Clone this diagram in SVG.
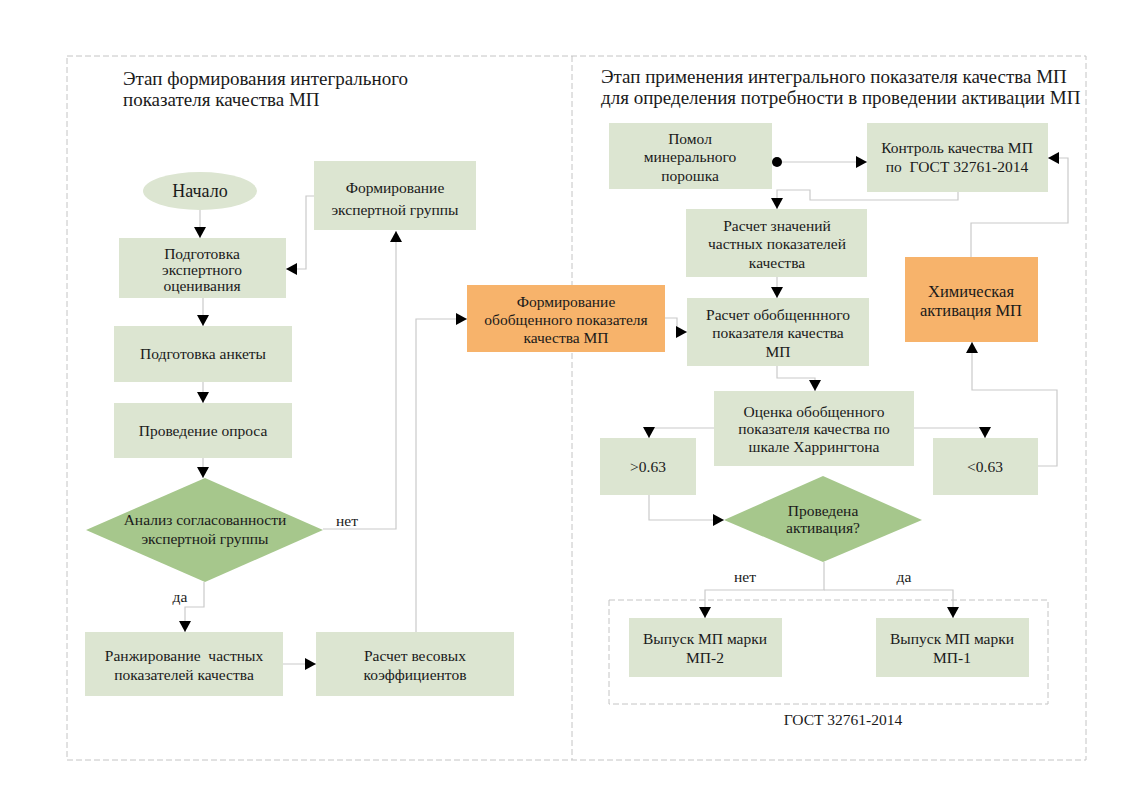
<svg xmlns="http://www.w3.org/2000/svg" width="1132" height="800" viewBox="0 0 1132 800" font-family="'Liberation Serif', 'Times New Roman', Tinos, 'DejaVu Serif', serif">
<style>
text{font-family:'Liberation Serif','Times New Roman',Tinos,'DejaVu Serif',serif;fill:#1a1a1a;text-anchor:middle}
.t{font-size:15.5px}
.h{font-size:19px;text-anchor:start}
.b{fill:#dce5d1}
.o{fill:#f7b36b}
.d{fill:#a6c78c}
.c{fill:none;stroke:#cacaca;stroke-width:1.2}
.frame{fill:none;stroke:#c4c4c4;stroke-width:1;stroke-dasharray:6 3}
</style>
<defs>
<marker id="a" markerUnits="userSpaceOnUse" markerWidth="12" markerHeight="12" refX="11" refY="6" orient="auto">
<path d="M0,0 L11,6 L0,12 z" fill="#000"/>
</marker>
</defs>
<rect width="1132" height="800" fill="#fff"/>
<g id="frames">
<rect class="frame" x="67" y="56" width="1019" height="704"/>
<line class="frame" x1="572" y1="56" x2="572" y2="760"/>
<rect class="frame" x="609" y="600" width="439" height="104"/>
</g>
<g id="titles">
<text class="h" x="123" y="85">Этап формирования интегрального</text>
<text class="h" x="123" y="106">показателя качества МП</text>
<text class="h" x="601" y="83">Этап применения интегрального показателя качества МП</text>
<text class="h" x="601" y="104">для определения потребности в проведении активации МП</text>
</g>
<g id="connectors">
<path class="c" d="M200,210 V238" marker-end="url(#a)"/>
<path class="c" d="M314,196 H306 V269 H286" marker-end="url(#a)"/>
<path class="c" d="M203,298 V326" marker-end="url(#a)"/>
<path class="c" d="M203,382 V403" marker-end="url(#a)"/>
<path class="c" d="M203,458 V478" marker-end="url(#a)"/>
<path class="c" d="M323,529 H396 V231" marker-end="url(#a)"/>
<path class="c" d="M204,582 V607 H185 V632" marker-end="url(#a)"/>
<path class="c" d="M283,664 H316" marker-end="url(#a)"/>
<path class="c" d="M416,632 V319 H467" marker-end="url(#a)"/>
<path class="c" d="M665,318 H677 V332 H687" marker-end="url(#a)"/>
<path class="c" d="M777,162 H867" marker-end="url(#a)"/>
<circle cx="777" cy="162" r="5" fill="#000"/>
<path class="c" d="M958,192 V200 H810 V190 H777 V209" marker-end="url(#a)"/>
<path class="c" d="M777,277 V298" marker-end="url(#a)"/>
<path class="c" d="M777,366 V378 H815 V391" marker-end="url(#a)"/>
<path class="c" d="M714,428 H649 V438" marker-end="url(#a)"/>
<path class="c" d="M914,428 H985 V438" marker-end="url(#a)"/>
<path class="c" d="M1038,466 H1057 V390 H972 V342" marker-end="url(#a)"/>
<path class="c" d="M971,257 V223 H1068 V158 H1048" marker-end="url(#a)"/>
<path class="c" d="M649,495 V520 H724" marker-end="url(#a)"/>
<path class="c" d="M824,562 V590 H705 V618" marker-end="url(#a)"/>
<path class="c" d="M824,590 H953 V618" marker-end="url(#a)"/>
</g>
<g id="start">
<ellipse class="b" cx="200" cy="191" rx="57" ry="19"/>
<text x="200" y="197" style="font-size:18px">Начало</text>
</g>
<g id="form-group">
<rect class="b" x="314" y="161" width="162" height="69"/>
<text class="t" x="395" y="193">Формирование</text>
<text class="t" x="395" y="215">экспертной группы</text>
</g>
<g id="prep-eval">
<rect class="b" x="119" y="238" width="167" height="60"/>
<text class="t" x="202" y="259">Подготовка</text>
<text class="t" x="202" y="275">экспертного</text>
<text class="t" x="202" y="291">оценивания</text>
</g>
<g id="prep-form">
<rect class="b" x="114" y="326" width="178" height="56"/>
<text class="t" x="203" y="359">Подготовка анкеты</text>
</g>
<g id="survey">
<rect class="b" x="114" y="403" width="178" height="55"/>
<text class="t" x="203" y="436">Проведение опроса</text>
</g>
<g id="analysis">
<polygon class="d" points="86,530 205,478 323,530 205,582"/>
<text class="t" x="205" y="525">Анализ согласованности</text>
<text class="t" x="205" y="544">экспертной группы</text>
</g>
<text class="t" x="347" y="526">нет</text>
<text class="t" x="180" y="602">да</text>
<g id="ranking">
<rect class="b" x="85" y="632" width="198" height="64"/>
<text class="t" x="184" y="661" xml:space="preserve">Ранжирование  частных</text>
<text class="t" x="184" y="680">показателей качества</text>
</g>
<g id="weights">
<rect class="b" x="316" y="632" width="198" height="64"/>
<text class="t" x="415" y="661">Расчет весовых</text>
<text class="t" x="415" y="680">коэффициентов</text>
</g>
<g id="general">
<rect class="o" x="467" y="285" width="198" height="67"/>
<text class="t" x="566" y="307">Формирование</text>
<text class="t" x="566" y="325">обобщенного показателя</text>
<text class="t" x="566" y="343">качества МП</text>
</g>
<g id="grinding">
<rect class="b" x="609" y="123" width="163" height="66"/>
<text class="t" x="690" y="144">Помол</text>
<text class="t" x="690" y="162">минерального</text>
<text class="t" x="690" y="181">порошка</text>
</g>
<g id="control">
<rect class="b" x="867" y="123" width="181" height="69"/>
<text class="t" x="957" y="153">Контроль качества МП</text>
<text class="t" x="957" y="172" xml:space="preserve">по  ГОСТ 32761-2014</text>
</g>
<g id="partial">
<rect class="b" x="686" y="209" width="181" height="68"/>
<text class="t" x="777" y="231">Расчет значений</text>
<text class="t" x="777" y="249">частных показателей</text>
<text class="t" x="777" y="268">качества</text>
</g>
<g id="chem">
<rect class="o" x="905" y="257" width="133" height="85"/>
<text x="971" y="297" style="font-size:16.5px">Химическая</text>
<text x="971" y="316" style="font-size:16.5px">активация МП</text>
</g>
<g id="calc-general">
<rect class="b" x="687" y="298" width="182" height="68"/>
<text class="t" x="778" y="320">Расчет обобщеннного</text>
<text class="t" x="778" y="338">показателя качества</text>
<text class="t" x="778" y="357">МП</text>
</g>
<g id="eval">
<rect class="b" x="714" y="391" width="200" height="75"/>
<text class="t" x="814" y="417">Оценка обобщенного</text>
<text class="t" x="814" y="434">показателя качества по</text>
<text class="t" x="814" y="452">шкале Харрингтона</text>
</g>
<g id="gt">
<rect class="b" x="600" y="438" width="96" height="57"/>
<text class="t" x="648" y="472">&gt;0.63</text>
</g>
<g id="lt">
<rect class="b" x="933" y="438" width="105" height="57"/>
<text class="t" x="985" y="472">&lt;0.63</text>
</g>
<g id="activated">
<polygon class="d" points="724,520 823,476 922,520 823,562"/>
<text class="t" x="823" y="516">Проведена</text>
<text class="t" x="823" y="533">активация?</text>
</g>
<text class="t" x="745" y="582">нет</text>
<text class="t" x="904" y="582">да</text>
<g id="mp2">
<rect class="b" x="629" y="618" width="153" height="59"/>
<text class="t" x="705" y="644">Выпуск МП марки</text>
<text class="t" x="705" y="663">МП-2</text>
</g>
<g id="mp1">
<rect class="b" x="876" y="618" width="153" height="59"/>
<text class="t" x="952" y="644">Выпуск МП марки</text>
<text class="t" x="952" y="663">МП-1</text>
</g>
<text class="t" x="843" y="725">ГОСТ 32761-2014</text>
</svg>
